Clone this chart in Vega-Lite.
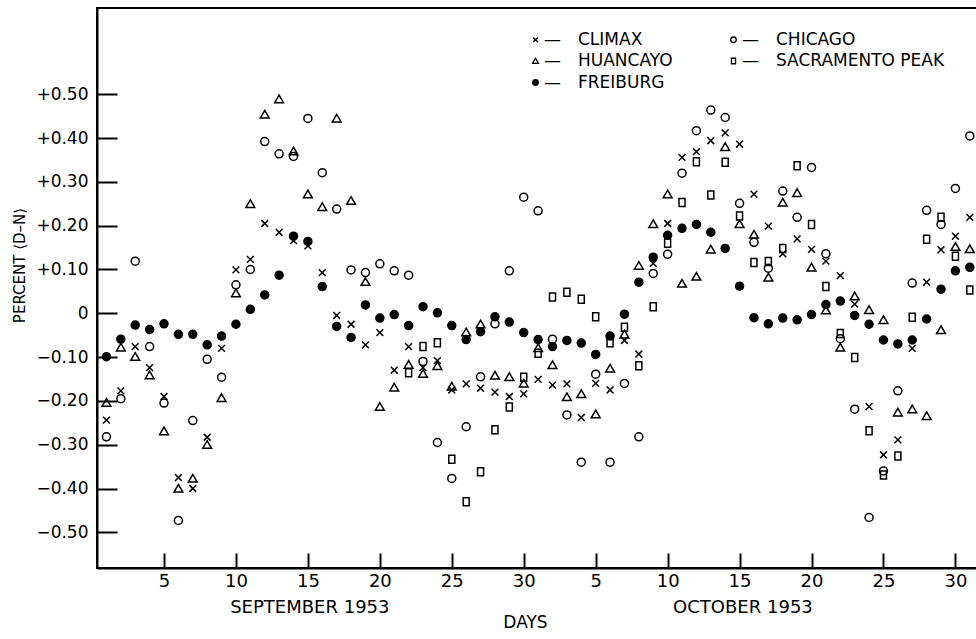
{
  "$schema": "https://vega.github.io/schema/vega-lite/v6.json",
  "width": 880,
  "height": 560,
  "autosize": {"type": "none"},
  "padding": {"left": 97, "top": 8, "right": 0, "bottom": 71},
  "background": "white",
  "config": {
    "font": "DejaVu Sans",
    "view": {"stroke": "black", "strokeWidth": 2},
    "axis": {"grid": false, "labelColor": "black", "titleColor": "black", "domainColor": "black", "tickColor": "black", "titleFontWeight": "normal", "labelFont": "DejaVu Sans", "titleFont": "DejaVu Sans"},
    "legend": {"orient": "none", "legendX": 430, "legendY": 23, "columns": 2, "columnPadding": 52, "rowPadding": 3.5, "labelFontSize": 17, "labelFont": "DejaVu Sans", "labelColor": "black", "labelLimit": 0, "symbolStrokeColor": "black", "symbolStrokeWidth": 1.3, "symbolSize": 30, "labelOffset": 0}
  },
  "datasets": {
    "months": [{"d": 15.1, "m": "SEPTEMBER 1953"}, {"d": 45.2, "m": "OCTOBER 1953"}],
    "obs": [
      {"d":1,"s":"CLIMAX","v":-0.244},{"d":2,"s":"CLIMAX","v":-0.177},{"d":3,"s":"CLIMAX","v":-0.076},{"d":4,"s":"CLIMAX","v":-0.124},{"d":5,"s":"CLIMAX","v":-0.19},{"d":6,"s":"CLIMAX","v":-0.375},{"d":7,"s":"CLIMAX","v":-0.4},{"d":8,"s":"CLIMAX","v":-0.283},{"d":9,"s":"CLIMAX","v":-0.08},{"d":10,"s":"CLIMAX","v":0.099},
      {"d":11,"s":"CLIMAX","v":0.123},{"d":12,"s":"CLIMAX","v":0.205},{"d":13,"s":"CLIMAX","v":0.185},{"d":14,"s":"CLIMAX","v":0.166},{"d":15,"s":"CLIMAX","v":0.154},{"d":16,"s":"CLIMAX","v":0.093},{"d":17,"s":"CLIMAX","v":-0.005},{"d":18,"s":"CLIMAX","v":-0.025},{"d":19,"s":"CLIMAX","v":-0.072},{"d":20,"s":"CLIMAX","v":-0.044},
      {"d":21,"s":"CLIMAX","v":-0.13},{"d":22,"s":"CLIMAX","v":-0.076},{"d":23,"s":"CLIMAX","v":-0.124},{"d":24,"s":"CLIMAX","v":-0.108},{"d":25,"s":"CLIMAX","v":-0.175},{"d":26,"s":"CLIMAX","v":-0.161},{"d":27,"s":"CLIMAX","v":-0.171},{"d":28,"s":"CLIMAX","v":-0.18},{"d":29,"s":"CLIMAX","v":-0.19},{"d":30,"s":"CLIMAX","v":-0.184},
      {"d":31,"s":"CLIMAX","v":-0.151},{"d":32,"s":"CLIMAX","v":-0.164},{"d":33,"s":"CLIMAX","v":-0.161},{"d":34,"s":"CLIMAX","v":-0.238},{"d":35,"s":"CLIMAX","v":-0.16},{"d":36,"s":"CLIMAX","v":-0.175},{"d":37,"s":"CLIMAX","v":-0.062},{"d":38,"s":"CLIMAX","v":-0.093},{"d":39,"s":"CLIMAX","v":0.114},{"d":40,"s":"CLIMAX","v":0.205},
      {"d":41,"s":"CLIMAX","v":0.356},{"d":42,"s":"CLIMAX","v":0.369},{"d":43,"s":"CLIMAX","v":0.394},{"d":44,"s":"CLIMAX","v":0.412},{"d":45,"s":"CLIMAX","v":0.386},{"d":46,"s":"CLIMAX","v":0.272},{"d":47,"s":"CLIMAX","v":0.199},{"d":48,"s":"CLIMAX","v":0.136},{"d":49,"s":"CLIMAX","v":0.17},{"d":50,"s":"CLIMAX","v":0.146},
      {"d":51,"s":"CLIMAX","v":0.119},{"d":52,"s":"CLIMAX","v":0.086},{"d":53,"s":"CLIMAX","v":0.021},{"d":54,"s":"CLIMAX","v":-0.213},{"d":55,"s":"CLIMAX","v":-0.323},{"d":56,"s":"CLIMAX","v":-0.289},{"d":57,"s":"CLIMAX","v":-0.08},{"d":58,"s":"CLIMAX","v":0.071},{"d":59,"s":"CLIMAX","v":0.145},{"d":60,"s":"CLIMAX","v":0.176},{"d":61,"s":"CLIMAX","v":0.219},
      {"d":1,"s":"CHICAGO","v":-0.282},{"d":2,"s":"CHICAGO","v":-0.195},{"d":3,"s":"CHICAGO","v":0.119},{"d":4,"s":"CHICAGO","v":-0.076},{"d":5,"s":"CHICAGO","v":-0.205},{"d":6,"s":"CHICAGO","v":-0.473},{"d":7,"s":"CHICAGO","v":-0.245},{"d":8,"s":"CHICAGO","v":-0.105},{"d":9,"s":"CHICAGO","v":-0.146},{"d":10,"s":"CHICAGO","v":0.065},
      {"d":11,"s":"CHICAGO","v":0.1},{"d":12,"s":"CHICAGO","v":0.392},{"d":13,"s":"CHICAGO","v":0.364},{"d":14,"s":"CHICAGO","v":0.358},{"d":15,"s":"CHICAGO","v":0.445},{"d":16,"s":"CHICAGO","v":0.321},{"d":17,"s":"CHICAGO","v":0.238},{"d":18,"s":"CHICAGO","v":0.099},{"d":19,"s":"CHICAGO","v":0.093},{"d":20,"s":"CHICAGO","v":0.113},
      {"d":21,"s":"CHICAGO","v":0.097},{"d":22,"s":"CHICAGO","v":0.087},{"d":23,"s":"CHICAGO","v":-0.11},{"d":24,"s":"CHICAGO","v":-0.295},{"d":25,"s":"CHICAGO","v":-0.377},{"d":26,"s":"CHICAGO","v":-0.259},{"d":27,"s":"CHICAGO","v":-0.145},{"d":28,"s":"CHICAGO","v":-0.024},{"d":29,"s":"CHICAGO","v":0.097},{"d":30,"s":"CHICAGO","v":0.265},
      {"d":31,"s":"CHICAGO","v":0.234},{"d":32,"s":"CHICAGO","v":-0.059},{"d":33,"s":"CHICAGO","v":-0.232},{"d":34,"s":"CHICAGO","v":-0.34},{"d":35,"s":"CHICAGO","v":-0.139},{"d":36,"s":"CHICAGO","v":-0.34},{"d":37,"s":"CHICAGO","v":-0.16},{"d":38,"s":"CHICAGO","v":-0.282},{"d":39,"s":"CHICAGO","v":0.091},{"d":40,"s":"CHICAGO","v":0.135},
      {"d":41,"s":"CHICAGO","v":0.32},{"d":42,"s":"CHICAGO","v":0.417},{"d":43,"s":"CHICAGO","v":0.464},{"d":44,"s":"CHICAGO","v":0.447},{"d":45,"s":"CHICAGO","v":0.251},{"d":46,"s":"CHICAGO","v":0.162},{"d":47,"s":"CHICAGO","v":0.103},{"d":48,"s":"CHICAGO","v":0.279},{"d":49,"s":"CHICAGO","v":0.219},{"d":50,"s":"CHICAGO","v":0.333},
      {"d":51,"s":"CHICAGO","v":0.136},{"d":52,"s":"CHICAGO","v":-0.058},{"d":53,"s":"CHICAGO","v":-0.219},{"d":54,"s":"CHICAGO","v":-0.466},{"d":55,"s":"CHICAGO","v":-0.36},{"d":56,"s":"CHICAGO","v":-0.177},{"d":57,"s":"CHICAGO","v":0.069},{"d":58,"s":"CHICAGO","v":0.235},{"d":59,"s":"CHICAGO","v":0.203},{"d":60,"s":"CHICAGO","v":0.285},{"d":61,"s":"CHICAGO","v":0.405},
      {"d":1,"s":"HUANCAYO","v":-0.204},{"d":2,"s":"HUANCAYO","v":-0.078},{"d":3,"s":"HUANCAYO","v":-0.099},{"d":4,"s":"HUANCAYO","v":-0.141},{"d":5,"s":"HUANCAYO","v":-0.269},{"d":6,"s":"HUANCAYO","v":-0.4},{"d":7,"s":"HUANCAYO","v":-0.377},{"d":8,"s":"HUANCAYO","v":-0.3},{"d":9,"s":"HUANCAYO","v":-0.193},{"d":10,"s":"HUANCAYO","v":0.046},
      {"d":11,"s":"HUANCAYO","v":0.25},{"d":12,"s":"HUANCAYO","v":0.454},{"d":13,"s":"HUANCAYO","v":0.489},{"d":14,"s":"HUANCAYO","v":0.37},{"d":15,"s":"HUANCAYO","v":0.272},{"d":16,"s":"HUANCAYO","v":0.243},{"d":17,"s":"HUANCAYO","v":0.445},{"d":18,"s":"HUANCAYO","v":0.257},{"d":19,"s":"HUANCAYO","v":0.072},{"d":20,"s":"HUANCAYO","v":-0.213},
      {"d":21,"s":"HUANCAYO","v":-0.169},{"d":22,"s":"HUANCAYO","v":-0.117},{"d":23,"s":"HUANCAYO","v":-0.138},{"d":24,"s":"HUANCAYO","v":-0.12},{"d":25,"s":"HUANCAYO","v":-0.167},{"d":26,"s":"HUANCAYO","v":-0.043},{"d":27,"s":"HUANCAYO","v":-0.025},{"d":28,"s":"HUANCAYO","v":-0.142},{"d":29,"s":"HUANCAYO","v":-0.145},{"d":30,"s":"HUANCAYO","v":-0.16},
      {"d":31,"s":"HUANCAYO","v":-0.079},{"d":32,"s":"HUANCAYO","v":-0.118},{"d":33,"s":"HUANCAYO","v":-0.191},{"d":34,"s":"HUANCAYO","v":-0.184},{"d":35,"s":"HUANCAYO","v":-0.23},{"d":36,"s":"HUANCAYO","v":-0.126},{"d":37,"s":"HUANCAYO","v":-0.048},{"d":38,"s":"HUANCAYO","v":0.109},{"d":39,"s":"HUANCAYO","v":0.204},{"d":40,"s":"HUANCAYO","v":0.272},
      {"d":41,"s":"HUANCAYO","v":0.068},{"d":42,"s":"HUANCAYO","v":0.084},{"d":43,"s":"HUANCAYO","v":0.146},{"d":44,"s":"HUANCAYO","v":0.38},{"d":45,"s":"HUANCAYO","v":0.204},{"d":46,"s":"HUANCAYO","v":0.18},{"d":47,"s":"HUANCAYO","v":0.082},{"d":48,"s":"HUANCAYO","v":0.253},{"d":49,"s":"HUANCAYO","v":0.275},{"d":50,"s":"HUANCAYO","v":0.105},
      {"d":51,"s":"HUANCAYO","v":0.007},{"d":52,"s":"HUANCAYO","v":-0.078},{"d":53,"s":"HUANCAYO","v":0.039},{"d":54,"s":"HUANCAYO","v":0.008},{"d":55,"s":"HUANCAYO","v":-0.015},{"d":56,"s":"HUANCAYO","v":-0.226},{"d":57,"s":"HUANCAYO","v":-0.219},{"d":58,"s":"HUANCAYO","v":-0.234},{"d":59,"s":"HUANCAYO","v":-0.038},{"d":60,"s":"HUANCAYO","v":0.152},{"d":61,"s":"HUANCAYO","v":0.147},
      {"d":22,"s":"SACRAMENTO PEAK","v":-0.136},{"d":23,"s":"SACRAMENTO PEAK","v":-0.076},{"d":24,"s":"SACRAMENTO PEAK","v":-0.067},{"d":25,"s":"SACRAMENTO PEAK","v":-0.333},{"d":26,"s":"SACRAMENTO PEAK","v":-0.43},{"d":27,"s":"SACRAMENTO PEAK","v":-0.362},{"d":28,"s":"SACRAMENTO PEAK","v":-0.266},{"d":29,"s":"SACRAMENTO PEAK","v":-0.214},{"d":30,"s":"SACRAMENTO PEAK","v":-0.146},
      {"d":31,"s":"SACRAMENTO PEAK","v":-0.091},{"d":32,"s":"SACRAMENTO PEAK","v":0.037},{"d":33,"s":"SACRAMENTO PEAK","v":0.048},{"d":34,"s":"SACRAMENTO PEAK","v":0.032},{"d":35,"s":"SACRAMENTO PEAK","v":-0.008},{"d":36,"s":"SACRAMENTO PEAK","v":-0.067},{"d":37,"s":"SACRAMENTO PEAK","v":-0.032},{"d":38,"s":"SACRAMENTO PEAK","v":-0.12},{"d":39,"s":"SACRAMENTO PEAK","v":0.015},{"d":40,"s":"SACRAMENTO PEAK","v":0.16},
      {"d":41,"s":"SACRAMENTO PEAK","v":0.253},{"d":42,"s":"SACRAMENTO PEAK","v":0.346},{"d":43,"s":"SACRAMENTO PEAK","v":0.27},{"d":44,"s":"SACRAMENTO PEAK","v":0.345},{"d":45,"s":"SACRAMENTO PEAK","v":0.222},{"d":46,"s":"SACRAMENTO PEAK","v":0.116},{"d":47,"s":"SACRAMENTO PEAK","v":0.118},{"d":48,"s":"SACRAMENTO PEAK","v":0.148},{"d":49,"s":"SACRAMENTO PEAK","v":0.337},{"d":50,"s":"SACRAMENTO PEAK","v":0.203},
      {"d":51,"s":"SACRAMENTO PEAK","v":0.061},{"d":52,"s":"SACRAMENTO PEAK","v":-0.046},{"d":53,"s":"SACRAMENTO PEAK","v":-0.101},{"d":54,"s":"SACRAMENTO PEAK","v":-0.268},{"d":55,"s":"SACRAMENTO PEAK","v":-0.369},{"d":56,"s":"SACRAMENTO PEAK","v":-0.326},{"d":57,"s":"SACRAMENTO PEAK","v":-0.009},{"d":58,"s":"SACRAMENTO PEAK","v":0.169},{"d":59,"s":"SACRAMENTO PEAK","v":0.219},{"d":60,"s":"SACRAMENTO PEAK","v":0.13},{"d":61,"s":"SACRAMENTO PEAK","v":0.053},
      {"d":1,"s":"FREIBURG","v":-0.099},{"d":2,"s":"FREIBURG","v":-0.059},{"d":3,"s":"FREIBURG","v":-0.027},{"d":4,"s":"FREIBURG","v":-0.037},{"d":5,"s":"FREIBURG","v":-0.024},{"d":6,"s":"FREIBURG","v":-0.048},{"d":7,"s":"FREIBURG","v":-0.048},{"d":8,"s":"FREIBURG","v":-0.072},{"d":9,"s":"FREIBURG","v":-0.052},{"d":10,"s":"FREIBURG","v":-0.025},
      {"d":11,"s":"FREIBURG","v":0.009},{"d":12,"s":"FREIBURG","v":0.042},{"d":13,"s":"FREIBURG","v":0.087},{"d":14,"s":"FREIBURG","v":0.176},{"d":15,"s":"FREIBURG","v":0.164},{"d":16,"s":"FREIBURG","v":0.061},{"d":17,"s":"FREIBURG","v":-0.03},{"d":18,"s":"FREIBURG","v":-0.055},{"d":19,"s":"FREIBURG","v":0.019},{"d":20,"s":"FREIBURG","v":-0.011},
      {"d":21,"s":"FREIBURG","v":-0.003},{"d":22,"s":"FREIBURG","v":-0.028},{"d":23,"s":"FREIBURG","v":0.015},{"d":24,"s":"FREIBURG","v":0.001},{"d":25,"s":"FREIBURG","v":-0.028},{"d":26,"s":"FREIBURG","v":-0.06},{"d":27,"s":"FREIBURG","v":-0.042},{"d":28,"s":"FREIBURG","v":-0.008},{"d":29,"s":"FREIBURG","v":-0.02},{"d":30,"s":"FREIBURG","v":-0.044},
      {"d":31,"s":"FREIBURG","v":-0.06},{"d":32,"s":"FREIBURG","v":-0.076},{"d":33,"s":"FREIBURG","v":-0.062},{"d":34,"s":"FREIBURG","v":-0.068},{"d":35,"s":"FREIBURG","v":-0.094},{"d":36,"s":"FREIBURG","v":-0.052},{"d":37,"s":"FREIBURG","v":-0.002},{"d":38,"s":"FREIBURG","v":0.071},{"d":39,"s":"FREIBURG","v":0.128},{"d":40,"s":"FREIBURG","v":0.178},
      {"d":41,"s":"FREIBURG","v":0.194},{"d":42,"s":"FREIBURG","v":0.203},{"d":43,"s":"FREIBURG","v":0.185},{"d":44,"s":"FREIBURG","v":0.148},{"d":45,"s":"FREIBURG","v":0.062},{"d":46,"s":"FREIBURG","v":-0.01},{"d":47,"s":"FREIBURG","v":-0.024},{"d":48,"s":"FREIBURG","v":-0.011},{"d":49,"s":"FREIBURG","v":-0.015},{"d":50,"s":"FREIBURG","v":-0.003},
      {"d":51,"s":"FREIBURG","v":0.02},{"d":52,"s":"FREIBURG","v":0.028},{"d":53,"s":"FREIBURG","v":-0.005},{"d":54,"s":"FREIBURG","v":-0.025},{"d":55,"s":"FREIBURG","v":-0.061},{"d":56,"s":"FREIBURG","v":-0.07},{"d":57,"s":"FREIBURG","v":-0.061},{"d":58,"s":"FREIBURG","v":-0.013},{"d":59,"s":"FREIBURG","v":0.055},{"d":60,"s":"FREIBURG","v":0.097},{"d":61,"s":"FREIBURG","v":0.105}
    ]
  },
  "layer": [
    {
      "data": {"name": "obs"},
      "mark": {"type": "point", "strokeWidth": 1.5, "size": 64, "opacity": 1},
      "encoding": {
        "x": {
          "field": "d", "type": "quantitative",
          "scale": {"domain": [0.344, 61.5], "nice": false, "zero": false},
          "axis": {"values": [5, 10, 15, 20, 25, 30, 35, 40, 45, 50, 55, 60], "labelExpr": "'' + (datum.value > 30 ? datum.value - 30 : datum.value)", "tickSize": -15, "tickWidth": 2, "domainWidth": 2, "labelPadding": 19, "labelFontSize": 18, "labelFlush": false, "labelOverlap": false, "title": "DAYS", "titleFontSize": 17, "titlePadding": 24, "titleX": 428, "orient": "bottom"}
        },
        "y": {
          "field": "v", "type": "quantitative",
          "scale": {"domain": [-0.5815, 0.697], "nice": false, "zero": false},
          "axis": {"values": [-0.5, -0.4, -0.3, -0.2, -0.1, 0, 0.1, 0.2, 0.3, 0.4, 0.5], "labelExpr": "datum.value > 0.001 ? '+' + format(datum.value, '.2f') : (datum.value < -0.001 ? '\u2212' + format(-datum.value, '.2f') : '0')", "tickSize": -20, "tickWidth": 2, "domainWidth": 2, "labelPadding": 29, "labelFontSize": 17, "labelFlush": false, "labelOverlap": false, "title": "PERCENT \u27e8D\u2013N\u27e9", "titleFontSize": 15, "titlePadding": 8, "titleY": 257}
        },
        "shape": {
          "field": "s", "type": "nominal",
          "scale": {"domain": ["CLIMAX", "HUANCAYO", "FREIBURG", "CHICAGO", "SACRAMENTO PEAK"], "range": ["M-0.85,-0.85L0.85,0.85M-0.85,0.85L0.85,-0.85", "M0,-1L1.1,0.9L-1.1,0.9Z", "circle", "circle", "M-0.75,-1H0.75V1H-0.75Z"]},
          "legend": {"title": null, "labelExpr": "'\u2014\u2003' + datum.label"}
        },
        "fill": {
          "field": "s", "type": "nominal",
          "scale": {"domain": ["CLIMAX", "HUANCAYO", "FREIBURG", "CHICAGO", "SACRAMENTO PEAK"], "range": ["transparent", "transparent", "black", "transparent", "transparent"]},
          "legend": {"title": null, "labelExpr": "'\u2014\u2003' + datum.label"}
        },
        "stroke": {
          "field": "s", "type": "nominal",
          "scale": {"domain": ["CLIMAX", "HUANCAYO", "FREIBURG", "CHICAGO", "SACRAMENTO PEAK"], "range": ["black", "black", "black", "black", "black"]},
          "legend": {"title": null, "labelExpr": "'\u2014\u2003' + datum.label"}
        }
      }
    },
    {
      "mark": {"type": "rule", "color": "black", "strokeWidth": 1.5},
      "encoding": {"y": {"datum": 0, "type": "quantitative"}}
    },
    {
      "data": {"name": "months"},
      "mark": {"type": "point", "opacity": 0},
      "encoding": {
        "x": {
          "field": "d", "type": "quantitative",
          "scale": {"domain": [0.344, 61.5], "nice": false, "zero": false},
          "axis": {"orient": "bottom", "values": [15.1, 45.2], "labelExpr": "datum.value < 30 ? 'SEPTEMBER 1953' : 'OCTOBER 1953'", "ticks": false, "domain": false, "labelPadding": 30, "labelFontSize": 18, "labelFlush": false, "labelOverlap": false, "title": null}
        }
      }
    }
  ],
  "resolve": {"axis": {"x": "independent"}}
}
